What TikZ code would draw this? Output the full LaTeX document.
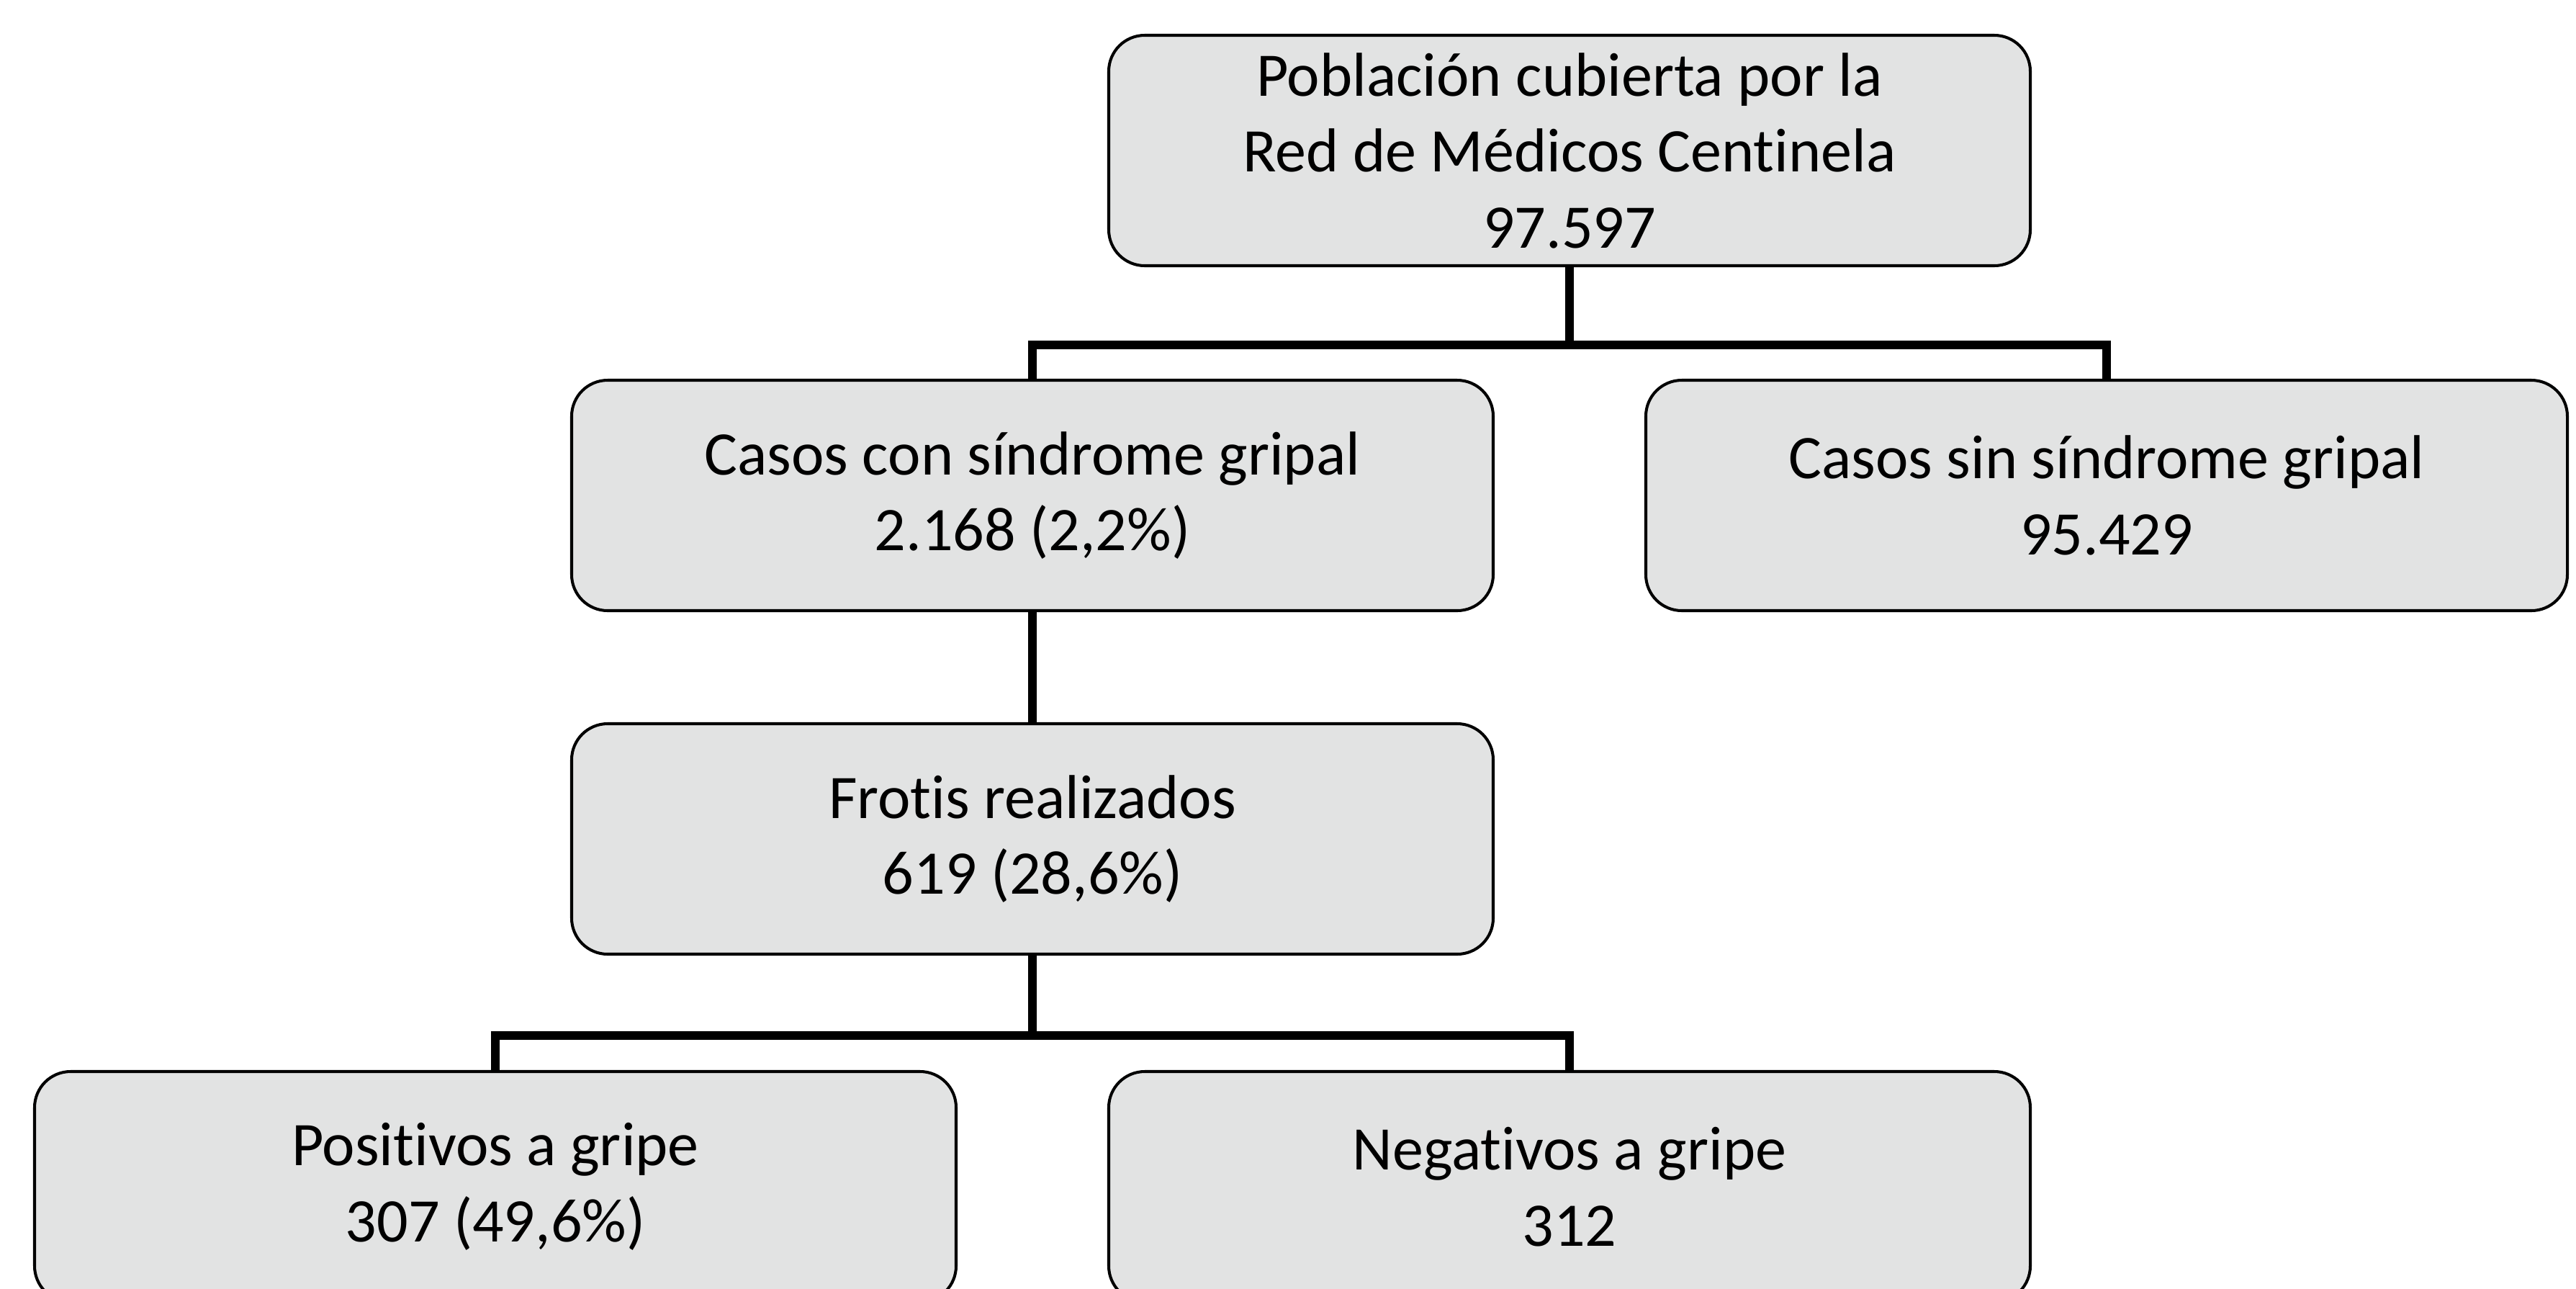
\documentclass[tikz,border=0pt]{standalone}
\usepackage{fontspec}
\setmainfont{Carlito}[Ligatures=NoCommon]
\usepackage{tikz}
\definecolor{gris}{HTML}{E2E3E3}
\tikzset{caja/.style={draw, line width=1.15pt, fill=gris, rounded corners=0.5cm, minimum width=12.8cm, minimum height=3.2cm, align=center, font=\fontsize{24.5}{30}\selectfont}}
\tikzset{rama/.style={line width=3.4pt}}

\begin{document}
\begin{tikzpicture}
  \useasboundingbox (0,0) rectangle (35.78,-17.89);
  \node (pob) at (21.80,-2.09)[caja]{Población cubierta por la\\Red de Médicos Centinela\\97.597};
  \node (con) at (14.34,-6.88)[caja]{Casos con síndrome gripal\\2.168 (2,2\%)};
  \node (sin) at (29.26,-6.88)[caja]{Casos sin síndrome gripal\\95.429};
  \node (frotis) at (14.34,-11.65)[caja]{Frotis realizados\\619 (28,6\%)};
  \node (pos) at (6.88,-16.48)[caja]{Positivos a gripe\\307 (49,6\%)};
  \node (neg) at (21.80,-16.48)[caja]{Negativos a gripe\\312};

  \coordinate (r1) at (21.80,-4.79);
  \coordinate (r2) at (14.34,-14.38);
  \draw[rama] (pob) -- (r1);
  \draw[rama] (con) |- (r1) -| (sin);
  \draw[rama] (con) -- (frotis);
  \draw[rama] (frotis) -- (r2);
  \draw[rama] (pos) |- (r2) -| (neg);
\end{tikzpicture}
\end{document}
